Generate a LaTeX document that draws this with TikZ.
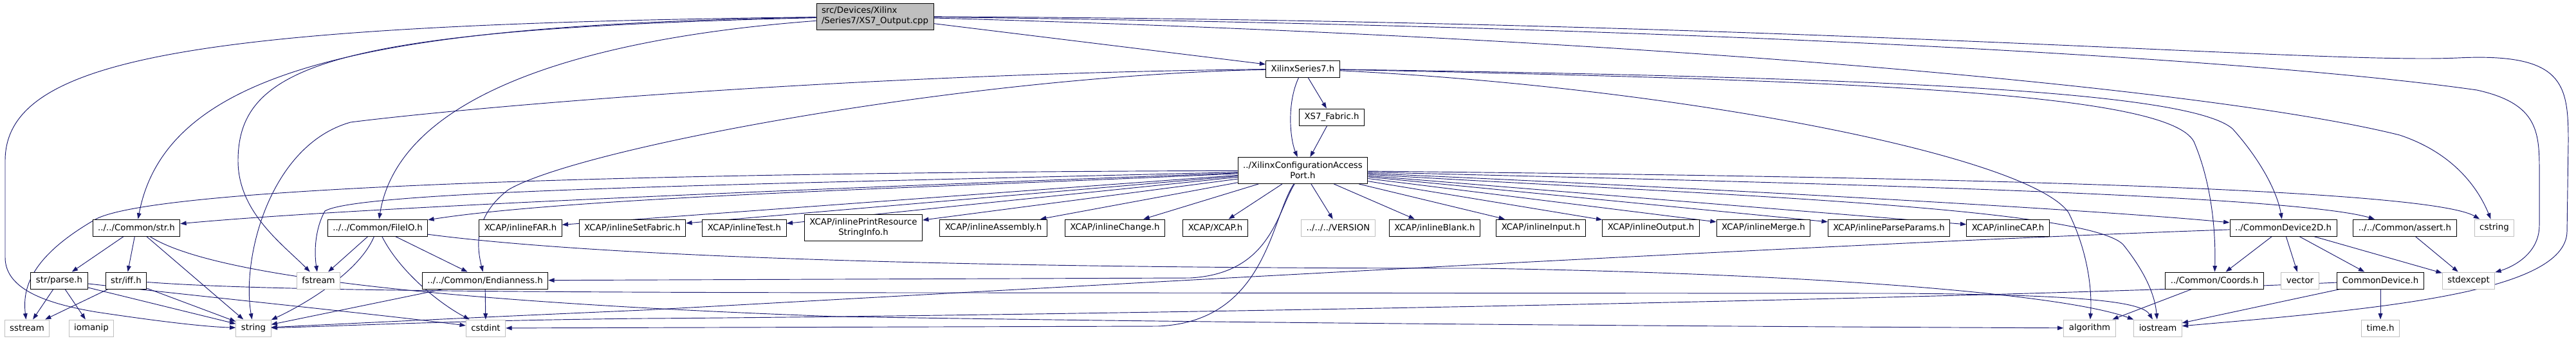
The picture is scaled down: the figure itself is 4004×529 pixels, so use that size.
\documentclass[tikz,border=0pt]{standalone}
\usepackage{fontspec}
\setmainfont{DejaVu Sans}
\usetikzlibrary{arrows.meta,backgrounds}
\definecolor{edgeblue}{HTML}{191970}
\definecolor{sysgray}{HTML}{BFBFBF}
\tikzset{
  hdr/.style={draw=black, fill=white, line width=0.75pt, inner xsep=6pt, inner ysep=2pt,
    minimum height=19.5pt, font=\fontsize{10}{12}\selectfont},
  sys/.style={hdr, draw=sysgray},
  root/.style={hdr, fill=sysgray, align=left, minimum height=30.75pt},
  two/.style={align=center, minimum height=30.75pt},
  inc/.style={draw=edgeblue, line width=0.7pt, -{Triangle[length=7pt,width=5pt]}}
}
\begin{document}
\begin{tikzpicture}[x=0.75pt, y=-0.75pt]
    \useasboundingbox (0,0) rectangle (4004,529);
    % files
      \node[root] (out) at (1360,25.5) {src/Devices/Xilinx\\/Series7/XS7\_Output.cpp};
      \node[hdr] (series) at (2025,107) {XilinxSeries7.h};
      \node[hdr] (fabric) at (2070,182) {XS7\_Fabric.h};
      \node[hdr, two] (xcap) at (2025,265) {../XilinxConfigurationAccess\\Port.h};
      \node[hdr] (str) at (212,354) {../../Common/str.h};
      \node[hdr] (fileio) at (587,354) {../../Common/FileIO.h};
      \node[hdr] (far) at (809,354) {XCAP/inlineFAR.h};
      \node[hdr] (setfabric) at (983,354) {XCAP/inlineSetFabric.h};
      \node[hdr] (test) at (1157,354) {XCAP/inlineTest.h};
      \node[hdr, two] (printres) at (1342,354) {XCAP/inlinePrintResource\\StringInfo.h};
      \node[hdr] (assembly) at (1544,354) {XCAP/inlineAssembly.h};
      \node[hdr] (change) at (1733,354) {XCAP/inlineChange.h};
      \node[hdr] (xcaph) at (1889,354) {XCAP/XCAP.h};
      \node[sys] (version) at (2080,354) {../../../VERSION};
      \node[hdr] (blank) at (2230,354) {XCAP/inlineBlank.h};
      \node[hdr] (input) at (2395,354) {XCAP/inlineInput.h};
      \node[hdr] (output) at (2566,354) {XCAP/inlineOutput.h};
      \node[hdr] (merge) at (2741,354) {XCAP/inlineMerge.h};
      \node[hdr] (parseparams) at (2936,354) {XCAP/inlineParseParams.h};
      \node[hdr] (cap) at (3121,354) {XCAP/inlineCAP.h};
      \node[hdr] (dev2d) at (3549,354) {../CommonDevice2D.h};
      \node[hdr] (assert) at (3738,354) {../../Common/assert.h};
      \node[sys] (cstring) at (3877,354) {cstring};
      \node[hdr] (parse) at (92,436) {str/parse.h};
      \node[hdr] (iff) at (196,436) {str/iff.h};
      \node[sys] (fstream) at (495,436) {fstream};
      \node[hdr] (endian) at (754,436) {../../Common/Endianness.h};
      \node[hdr] (coords) at (3442,436) {../Common/Coords.h};
      \node[sys] (vector) at (3575,436) {vector};
      \node[hdr] (device) at (3700,436) {CommonDevice.h};
      \node[sys] (stdexcept) at (3837,436) {stdexcept};
      \node[sys] (sstream) at (42,510) {sstream};
      \node[sys] (iomanip) at (142,510) {iomanip};
      \node[sys] (string) at (394,510) {string};
      \node[sys] (cstdint) at (755,510) {cstdint};
      \node[sys] (algorithm) at (3248,510) {algorithm};
      \node[sys] (iostream) at (3354,510) {iostream};
      \node[sys] (timeh) at (3700,510) {time.h};
    \begin{scope}[on background layer]
    % includes of the cpp file
      \draw[inc] (out) -- (series);
      \draw[inc] (out) .. controls (600,38) and (260,100) .. (str);
      \draw[inc] (out) .. controls (900,60) and (620,150) .. (fileio);
      \draw[inc] (out) .. controls (520,45) and (370,100) .. (370,250) .. controls (370,330) and (440,380) .. (fstream);
      \draw[inc] (out) .. controls (300,38) and (8,90) .. (8,250) -- (8,400) .. controls (8,445) and (60,470) .. (150,485) .. controls (250,500) and (320,508) .. (string);
      \draw[inc] (out) .. controls (2800,32) and (3600,100) .. (3820,90) .. controls (3985,82) and (3992,130) .. (3992,220) -- (3990,360) .. controls (3988,455) and (3700,480) .. (iostream);
      \draw[inc] (out) .. controls (2600,40) and (3500,90) .. (3850,140) .. controls (3940,160) and (3947,200) .. (3947,260) -- (3947,350) .. controls (3947,395) and (3905,415) .. (stdexcept);
      \draw[inc] (out) .. controls (2600,60) and (3450,140) .. (3730,210) .. controls (3820,240) and (3855,300) .. (cstring);
    % XilinxSeries7.h
      \draw[inc] (series) -- (fabric);
      \draw[inc] (series) .. controls (2000,160) and (2005,215) .. (xcap);
      \draw[inc] (series) .. controls (2900,125) and (3370,145) .. (3410,220) .. controls (3440,290) and (3444,370) .. (coords);
      \draw[inc] (series) .. controls (2900,120) and (3400,140) .. (3470,200) .. controls (3515,250) and (3540,300) .. (dev2d);
      \draw[inc] (series) .. controls (2600,135) and (3150,240) .. (3215,330) .. controls (3245,390) and (3252,450) .. (algorithm);
      \draw[inc] (series) .. controls (1500,118) and (900,230) .. (790,295) .. controls (738,335) and (740,380) .. (endian);
      \draw[inc] (series) .. controls (1300,115) and (700,170) .. (545,190) .. controls (420,225) and (375,400) .. (string);
      \draw[inc] (fabric) -- (xcap);
    % XilinxConfigurationAccessPort.h
      \draw[inc] (xcap) .. controls (1500,285) and (600,318) .. (str);
      \draw[inc] (xcap) .. controls (1500,290) and (900,305) .. (fileio);
      \draw[inc] (xcap) .. controls (1000,268) and (250,290) .. (150,340) .. controls (45,400) and (35,450) .. (sstream);
      \draw[inc] (xcap) .. controls (1200,286) and (560,295) .. (505,328) .. controls (490,355) and (488,390) .. (fstream);
      \draw[inc] (xcap) .. controls (1985,330) and (1975,425) .. (1850,432) -- (endian);
      \draw[inc] (xcap) .. controls (1975,340) and (1968,500) .. (1800,507) -- (cstdint);
      \draw[inc] (xcap) -- (far);
      \draw[inc] (xcap) -- (setfabric);
      \draw[inc] (xcap) -- (test);
      \draw[inc] (xcap) -- (printres);
      \draw[inc] (xcap) -- (assembly);
      \draw[inc] (xcap) -- (change);
      \draw[inc] (xcap) -- (xcaph);
      \draw[inc] (xcap) -- (version);
      \draw[inc] (xcap) -- (blank);
      \draw[inc] (xcap) -- (input);
      \draw[inc] (xcap) -- (output);
      \draw[inc] (xcap) -- (merge);
      \draw[inc] (xcap) -- (parseparams);
      \draw[inc] (xcap) -- (cap);
      \draw[inc] (xcap) .. controls (2600,300) and (3240,320) .. (3300,380) .. controls (3340,430) and (3350,465) .. (iostream);
      \draw[inc] (xcap) .. controls (2600,290) and (3250,325) .. (dev2d);
      \draw[inc] (xcap) .. controls (2700,282) and (3550,300) .. (assert);
      \draw[inc] (xcap) .. controls (2700,272) and (3760,285) .. (cstring);
    % Common
      \draw[inc] (str) -- (parse);
      \draw[inc] (str) -- (iff);
      \draw[inc] (str) -- (string);
      \draw[inc] (str) .. controls (330,430) and (700,470) .. (1300,492) .. controls (1900,502) and (2600,507) .. (algorithm);
      \draw[inc] (parse) -- (sstream);
      \draw[inc] (parse) -- (iomanip);
      \draw[inc] (parse) -- (string);
      \draw[inc] (parse) .. controls (400,470) and (600,490) .. (cstdint);
      \draw[inc] (iff) -- (sstream);
      \draw[inc] (iff) -- (string);
      \draw[inc] (iff) .. controls (380,450) and (700,455) .. (1500,455) -- (2950,456) .. controls (3250,458) and (3330,470) .. (iostream);
      \draw[inc] (fileio) -- (fstream);
      \draw[inc] (fileio) -- (endian);
      \draw[inc] (fileio) .. controls (560,420) and (480,470) .. (string);
      \draw[inc] (fileio) .. controls (620,420) and (680,470) .. (cstdint);
      \draw[inc] (fileio) .. controls (900,395) and (1400,417) .. (2300,417) .. controls (2800,425) and (3200,455) .. (iostream);
      \draw[inc] (endian) -- (string);
      \draw[inc] (endian) -- (cstdint);
    % devices
      \draw[inc] (dev2d) -- (coords);
      \draw[inc] (dev2d) -- (vector);
      \draw[inc] (dev2d) -- (device);
      \draw[inc] (dev2d) -- (stdexcept);
      \draw[inc] (dev2d) .. controls (2800,380) and (1500,455) .. (1000,482) .. controls (700,495) and (500,505) .. (string);
      \draw[inc] (assert) -- (stdexcept);
      \draw[inc] (device) -- (iostream);
      \draw[inc] (device) -- (timeh);
      \draw[inc] (device) .. controls (3000,468) and (1500,492) .. (1000,495) .. controls (700,498) and (500,508) .. (string);
      \draw[inc] (coords) -- (algorithm);
    \end{scope}
    \end{tikzpicture}
\end{document}
